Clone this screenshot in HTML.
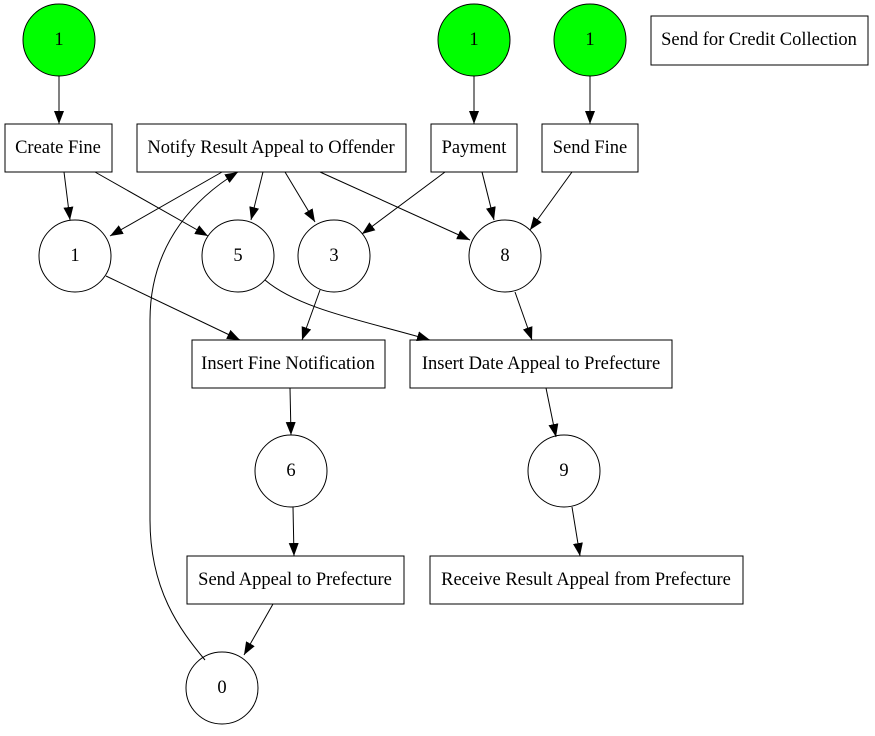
<!DOCTYPE html>
<html><head><style>
body{margin:0;background:#fff}
svg text{font-family:"Liberation Serif",serif;font-size:18.5px;text-anchor:middle;dominant-baseline:central}
</style></head><body>
<svg width="875" height="731" xmlns="http://www.w3.org/2000/svg">
<defs><marker id="a" markerWidth="13" markerHeight="10" refX="13" refY="5" orient="auto" markerUnits="userSpaceOnUse"><path d="M0,0 L13,5 L0,10z" fill="#000"/></marker></defs>
<g fill="#00ff00" stroke="#000">
<circle cx="59" cy="40" r="36"/><circle cx="474" cy="40" r="36"/><circle cx="590" cy="40" r="36"/>
</g>
<g fill="#fff" stroke="#000">
<rect x="651" y="16" width="217" height="49"/>
<rect x="5" y="124" width="107" height="48"/>
<rect x="137" y="124" width="269" height="48"/>
<rect x="431" y="124" width="86" height="48"/>
<rect x="542" y="124" width="96" height="48"/>
<circle cx="75" cy="256" r="36"/><circle cx="238" cy="256" r="36"/><circle cx="334" cy="256" r="36"/><circle cx="505" cy="256" r="36"/>
<rect x="192" y="340" width="193" height="48"/>
<rect x="410" y="340" width="262" height="48"/>
<circle cx="291" cy="471" r="36"/><circle cx="564" cy="471" r="36"/>
<rect x="187" y="556" width="217" height="48"/>
<rect x="430" y="556" width="313" height="48"/>
<circle cx="222" cy="688" r="36"/>
</g>
<g stroke="#000" fill="none" marker-end="url(#a)">
<path d="M59,76L59,124"/><path d="M474,76L474,124"/><path d="M590,76L590,124"/>
<path d="M64,172L70,220"/><path d="M95,172L208,236"/>
<path d="M222,172L110,236"/><path d="M263,172L251,220"/><path d="M285,172L315,222"/>
<path d="M320,172L470,240"/><path d="M445,172L362,234"/><path d="M482,172L494,220"/>
<path d="M572,172L530,230"/>
<path d="M106,276L240,340"/><path d="M320,290L302,340"/>
<path d="M265,280C300,310 370,322 430,340"/>
<path d="M515,292L532,340"/>
<path d="M290,388L291,435"/><path d="M546,388L556,437"/>
<path d="M293,507L294,556"/><path d="M572,507L580,556"/>
<path d="M273,604L244,655"/>
<path d="M205,660C180,630 150,590 150,520L150,320C150,240 200,195 238,172"/>
</g>
<g>
<text x="59" y="40">1</text><text x="474" y="40">1</text><text x="590" y="40">1</text>
<text x="759" y="40">Send for Credit Collection</text>
<text x="58" y="148">Create Fine</text>
<text x="271" y="148">Notify Result Appeal to Offender</text>
<text x="474" y="148">Payment</text>
<text x="590" y="148">Send Fine</text>
<text x="75" y="256">1</text><text x="238" y="256">5</text><text x="334" y="256">3</text><text x="505" y="256">8</text>
<text x="288" y="364">Insert Fine Notification</text>
<text x="541" y="364">Insert Date Appeal to Prefecture</text>
<text x="291" y="471">6</text><text x="564" y="471">9</text>
<text x="295" y="580">Send Appeal to Prefecture</text>
<text x="586" y="580">Receive Result Appeal from Prefecture</text>
<text x="222" y="688">0</text>
</g>
</svg>
</body></html>
